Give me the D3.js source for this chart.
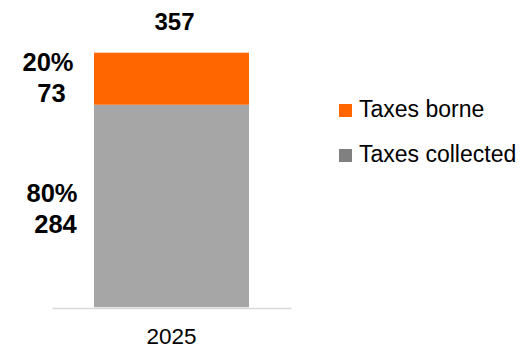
<!DOCTYPE html>
<html>
<head>
<meta charset="utf-8">
<script src="https://cdn.jsdelivr.net/npm/d3@7"></script>
<style>
  html, body { margin: 0; padding: 0; background: #fff; }
  svg { display: block; font-family: "Liberation Sans", Arial, sans-serif; }
</style>
</head>
<body>
<svg id="chart" width="524" height="348"></svg>
<script>
// Chart data
const categories = ["2025"];
const seriesNames = ["Taxes collected", "Taxes borne"];
const taxesCollected = [284];
const taxesBorne = [73];
const percentLabels = { "Taxes collected": ["80%"], "Taxes borne": ["20%"] };
const totals = [357];

// Presentation
const barColors = { "Taxes collected": "#A6A6A6", "Taxes borne": "#FF6600" };
const legendColors = { "Taxes borne": "#FF6600", "Taxes collected": "#808080" };
const legendOrder = ["Taxes borne", "Taxes collected"];
const labelShift = { "Taxes borne": { dx: 0, dy: -8 }, "Taxes collected": { dx: 4, dy: -3.8 } };

const svg = d3.select("#chart");

const plot = { left: 52, right: 291, top: 52.7, bottom: 307.3 };

const rows = categories.map((c, i) => ({
  category: c,
  "Taxes collected": taxesCollected[i],
  "Taxes borne": taxesBorne[i],
  total: totals[i]
}));

const x = d3.scaleBand()
  .domain(categories)
  .range([plot.left, plot.right])
  .paddingInner(0.2133)
  .paddingOuter(0.2133);

const y = d3.scaleLinear()
  .domain([0, d3.max(rows, d => d.total)])
  .range([plot.bottom, plot.top]);

const stacked = d3.stack().keys(seriesNames)(rows);

// Stacked bars
const layers = svg.append("g")
  .selectAll("g")
  .data(stacked)
  .join("g")
  .attr("fill", s => barColors[s.key]);

layers.selectAll("rect")
  .data(s => s.map(d => ({ key: s.key, d })))
  .join("rect")
  .attr("x", p => x(p.d.data.category))
  .attr("width", x.bandwidth())
  .attr("y", p => y(p.d[1]))
  .attr("height", p => y(p.d[0]) - y(p.d[1]));

// Category axis
const axis = svg.append("g")
  .attr("transform", `translate(0,${plot.bottom + 0.8})`)
  .call(d3.axisBottom(x).tickSize(0).tickSizeOuter(0));
axis.select(".domain").attr("stroke", "#D9D9D9").attr("stroke-width", 1.5);
axis.selectAll(".tick text")
  .attr("y", 0)
  .attr("dy", 0)
  .attr("transform", "translate(0,35.5)")
  .attr("font-size", 22.5)
  .attr("font-family", "'Liberation Sans', Arial, sans-serif")
  .attr("fill", "#000");

// Segment labels: percentage over value, left of the bar
stacked.forEach((s, si) => {
  s.forEach((d, i) => {
    const mid = (y(d[0]) + y(d[1])) / 2 + labelShift[s.key].dy;
    const x0 = x(d.data.category);
    const g = svg.append("g")
      .attr("font-size", 25.5)
      .attr("font-weight", "bold")
      .attr("text-anchor", "middle")
      .attr("fill", "#000");
    g.append("text")
      .attr("x", x0 - 46 + labelShift[s.key].dx)
      .attr("y", mid)
      .text(percentLabels[s.key][i]);
    g.append("text")
      .attr("x", x0 - 42.5 + labelShift[s.key].dx)
      .attr("y", mid + 31)
      .text(d.data[s.key]);
  });
});

// Total above the bar
svg.append("g")
  .selectAll("text")
  .data(rows)
  .join("text")
  .attr("x", d => x(d.category) + x.bandwidth() / 2 + 3)
  .attr("y", d => y(d.total) - 22.7)
  .attr("text-anchor", "middle")
  .attr("font-size", 24)
  .attr("font-weight", "bold")
  .attr("fill", "#000")
  .text(d => d.total);

// Legend
const legend = svg.append("g")
  .selectAll("g")
  .data(legendOrder)
  .join("g")
  .attr("transform", (d, i) => `translate(339,${104 + i * 45})`);
legend.append("rect")
  .attr("width", 13)
  .attr("height", 13)
  .attr("fill", d => legendColors[d]);
legend.append("text")
  .attr("x", 20)
  .attr("y", 13)
  .attr("font-size", 23)
  .attr("fill", "#000")
  .text(d => d);
</script>
</body>
</html>
